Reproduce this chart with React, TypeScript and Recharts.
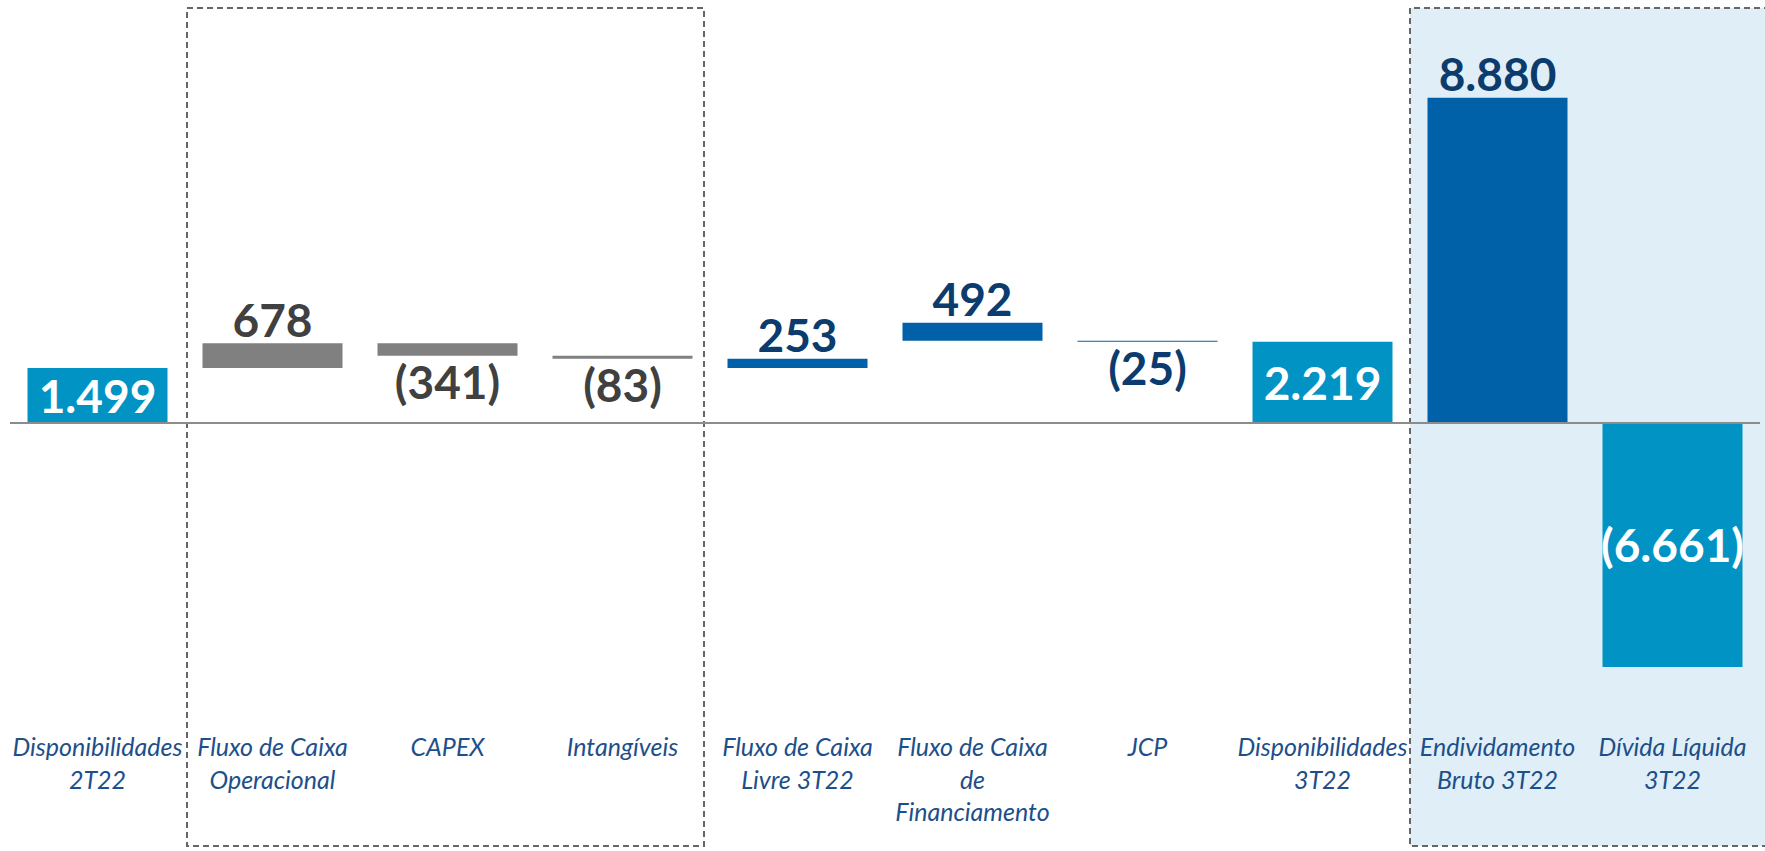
import React from 'react';
import {
  ComposedChart,
  Bar,
  XAxis,
  YAxis,
  Cell,
  LabelList,
  ReferenceArea,
  ReferenceLine,
} from 'recharts';

// ---- data ----
const categories = [
  'Disponibilidades\n2T22',
  'Fluxo de Caixa\nOperacional',
  'CAPEX',
  'Intangíveis',
  'Fluxo de Caixa\nLivre 3T22',
  'Fluxo de Caixa\nde\nFinanciamento',
  'JCP',
  'Disponibilidades\n3T22',
  'Endividamento\nBruto 3T22',
  'Dívida Líquida\n3T22',
];
const starts = [0, 1499, 2177, 1836, 1499, 2244, 2244, 0, 0, 0];
const changes = [1499, 678, -341, -83, 253, 492, -25, 2219, 8880, -6661];
const valueLabels = ['1.499', '678', '(341)', '(83)', '253', '492', '(25)', '2.219', '8.880', '(6.661)'];

// ---- styles ----
const TEAL = '#0093C3';
const BLUE = '#0061A9';
const GRAY = '#808080';
const barColors = [TEAL, GRAY, GRAY, GRAY, BLUE, BLUE, BLUE, TEAL, BLUE, TEAL];
const labelPlacement = ['inside', 'above', 'below', 'below', 'above', 'above', 'below', 'inside', 'above', 'inside'];
const labelColors = ['#FFFFFF', '#404040', '#404040', '#404040', '#0C3B6E', '#0C3B6E', '#0C3B6E', '#FFFFFF', '#0C3B6E', '#FFFFFF'];

const data = categories.map((name, i) => {
  const a = starts[i];
  const b = starts[i] + changes[i];
  return { name, range: [Math.min(a, b), Math.max(a, b)] };
});

const CategoryTick = (props: any) => {
  const { x, y, payload } = props;
  const lines = String(payload.value).split('\n');
  return (
    <text
      x={x}
      y={y - 91}
      textAnchor="middle"
      fill="#1D4F8B"
      fontFamily="Lato, 'Open Sans', sans-serif"
      fontStyle="italic"
      fontSize={25}
    >
      {lines.map((l, i) => (
        <tspan key={i} x={x} dy={i === 0 ? 0 : 32.5}>
          {l}
        </tspan>
      ))}
    </text>
  );
};

const ValueLabel = (props: any) => {
  const { x, y, width, height, index } = props;
  const top = Math.min(y, y + height);
  const bottom = Math.max(y, y + height);
  const cx = x + width / 2;
  const place = labelPlacement[index];
  let cy = (top + bottom) / 2;
  if (place === 'above') cy = top - 24;
  if (place === 'below') cy = bottom + 26;
  return (
    <text
      x={cx}
      y={cy}
      textAnchor="middle"
      dominantBaseline="central"
      fill={labelColors[index]}
      fontFamily="Lato, 'Open Sans', sans-serif"
      fontWeight={700}
      fontSize={46}
    >
      {valueLabels[index]}
    </text>
  );
};

const DashedBox = (props: any) => {
  const { x, y, width, height } = props;
  return (
    <g>
      <rect x={x + 2} y={y - 1} width={width - 8} height={height} fill="none" stroke="#666666" strokeWidth={2} strokeDasharray="6 4" />
    </g>
  );
};

const ShadedBox = (props: any) => {
  const { x, y, width, height } = props;
  const ext = width + 20;
  return (
    <g>
      <rect x={x} y={y - 1} width={ext} height={height} fill="#E0EFF7" />
      <path
        d={`M${x + ext},${y - 1} L${x},${y - 1} L${x},${y + height - 1} L${x + ext},${y + height - 1}`}
        fill="none"
        stroke="#666666"
        strokeWidth={2}
        strokeDasharray="6 4"
      />
    </g>
  );
};

export default function App() {
  return (
    <div style={{ width: 1765, height: 851, background: '#FFFFFF' }}>
      <style>{'body{margin:0;overflow:hidden;background:#fff}'}</style>
      <ComposedChart
        width={1765}
        height={851}
        data={data}
        margin={{ top: 9, right: 5, bottom: 3, left: 10 }}
        barCategoryGap="10%"
      >
        <XAxis
          dataKey="name"
          type="category"
          interval={0}
          height={1}
          tickLine={false}
          axisLine={false}
          tickSize={0}
          tickMargin={0}
          tick={<CategoryTick />}
        />
        <YAxis hide width={0} type="number" domain={[-11578, 11305]} allowDataOverflow />
        <ReferenceArea
          x1={categories[8]}
          x2={categories[9]}
          ifOverflow="visible"
          shape={<ShadedBox />}
        />
        <ReferenceArea
          x1={categories[1]}
          x2={categories[3]}
          ifOverflow="visible"
          shape={<DashedBox />}
        />
        <ReferenceLine y={0} stroke="#8C8C8C" strokeWidth={2} />
        <Bar dataKey="range" isAnimationActive={false}>
          {data.map((d, i) => (
            <Cell key={d.name} fill={barColors[i]} />
          ))}
          <LabelList dataKey="range" content={<ValueLabel />} />
        </Bar>
      </ComposedChart>
    </div>
  );
}
